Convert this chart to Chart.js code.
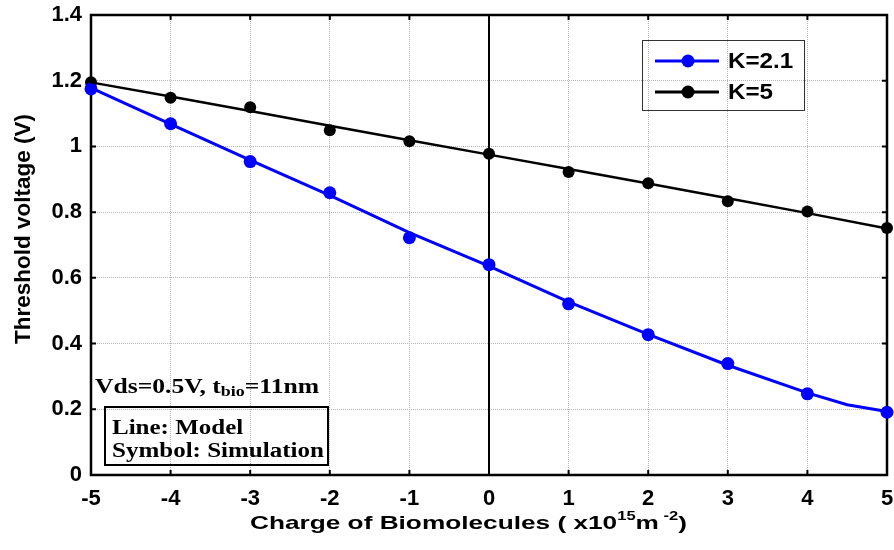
<!DOCTYPE html>
<html>
<head>
<meta charset="utf-8">
<script src="https://cdn.jsdelivr.net/npm/chart.js@4.4.0/dist/chart.umd.min.js"></script>
<style>
    html, body { margin: 0; padding: 0; background: #fff; }
    #wrap { width: 894px; height: 550px; }
</style>
</head>
<body>
<div id="wrap"><canvas id="vtChart" width="894" height="550"></canvas></div>
<script>
// ================================
// Threshold voltage vs charge of biomolecules
// ================================

// Charge of biomolecules (x10^15 m^-2)
const charge = [-5, -4, -3, -2, -1, 0, 1, 2, 3, 4, 5];

// Simulation symbols
const simK21 = [1.175, 1.069, 0.954, 0.859, 0.722, 0.640, 0.521, 0.427, 0.339, 0.247, 0.191];
const simK5 = [1.195, 1.148, 1.119, 1.049, 1.016, 0.978, 0.922, 0.888, 0.833, 0.802, 0.752];

// Model lines
const modelK21X = [-5, -4, -3, -2, -1, 0, 1, 2, 3, 4, 4.5, 5];
const modelK21 = [1.178, 1.068, 0.958, 0.851, 0.738, 0.636, 0.527, 0.428, 0.334, 0.250, 0.214, 0.193];
const modelK5X = [-5, -4, -3, -2, -1, 0, 1, 2, 3, 4, 5];
const modelK5 = [1.195, 1.152, 1.108, 1.063, 1.019, 0.975, 0.931, 0.887, 0.842, 0.797, 0.750];

// Tick labels
const xTickLabels = ['-5', '-4', '-3', '-2', '-1', '0', '1', '2', '3', '4', '5'];
const yTickLabels = ['0', '0.2', '0.4', '0.6', '0.8', '1', '1.2', '1.4'];

const legendLabels = ['K=2.1', 'K=5'];
const BLUE = '#0000ff';
const BLACK = '#000000';

function toPoints(xs, ys) {
    return xs.map((x, i) => ({ x: x, y: ys[i] }));
}

// Frame, zero line and inward ticks
const framePlugin = {
    id: 'frame',
    beforeDatasetsDraw(chart) {
        const { ctx, chartArea: a, scales: { x, y } } = chart;
        ctx.save();
        ctx.strokeStyle = '#000';
        ctx.lineWidth = 2.5;
        ctx.strokeRect(a.left, a.top, a.right - a.left, a.bottom - a.top);

        // vertical line at zero
        const x0 = x.getPixelForValue(0);
        ctx.lineWidth = 2;
        ctx.beginPath();
        ctx.moveTo(x0, a.top);
        ctx.lineTo(x0, a.bottom);
        ctx.stroke();

        // inward ticks
        ctx.lineWidth = 2;
        const len = 5;
        charge.forEach(v => {
            const px = x.getPixelForValue(v);
            ctx.beginPath();
            ctx.moveTo(px, a.bottom); ctx.lineTo(px, a.bottom - len);
            ctx.moveTo(px, a.top); ctx.lineTo(px, a.top + len);
            ctx.stroke();
        });
        yTickLabels.forEach((_, i) => {
            const py = y.getPixelForValue(i * 0.2);
            ctx.beginPath();
            ctx.moveTo(a.left, py); ctx.lineTo(a.left + len, py);
            ctx.moveTo(a.right, py); ctx.lineTo(a.right - len, py);
            ctx.stroke();
        });
        ctx.restore();
    }
};

// Legend, notes and axis titles
const labelsPlugin = {
    id: 'labels',
    afterDraw(chart) {
        const { ctx } = chart;
        ctx.save();

        // legend box
        ctx.strokeStyle = '#333';
        ctx.lineWidth = 1;
        ctx.strokeRect(642.5, 40.5, 162, 70);
        const colors = [BLUE, BLACK];
        const rows = [61, 92];
        colors.forEach((c, i) => {
            ctx.strokeStyle = c;
            ctx.fillStyle = c;
            ctx.lineWidth = 3;
            ctx.beginPath();
            ctx.moveTo(655, rows[i]);
            ctx.lineTo(719, rows[i]);
            ctx.stroke();
            ctx.beginPath();
            ctx.arc(688, rows[i], 6.5, 0, Math.PI * 2);
            ctx.fill();
            ctx.fillStyle = '#000';
            ctx.font = 'bold 22px "Liberation Sans", Arial, sans-serif';
            ctx.textBaseline = 'middle';
            ctx.textAlign = 'left';
            ctx.save();
            ctx.translate(728, rows[i] + 1);
            ctx.scale(1.1, 1);
            ctx.fillText(legendLabels[i], 0, 0);
            ctx.restore();
        });

        // condition text
        const serif = '"Liberation Serif", "Times New Roman", serif';
        ctx.fillStyle = '#000';
        ctx.textBaseline = 'alphabetic';
        ctx.save();
        ctx.translate(95, 393);
        ctx.scale(1.28, 1);
        ctx.font = 'bold 20px ' + serif;
        let cx = 0;
        const part1 = 'Vds=0.5V, t';
        ctx.fillText(part1, cx, 0);
        cx += ctx.measureText(part1).width;
        ctx.font = 'bold 14px ' + serif;
        ctx.fillText('bio', cx, 3);
        cx += ctx.measureText('bio').width;
        ctx.font = 'bold 20px ' + serif;
        ctx.fillText('=11nm', cx, 0);
        ctx.restore();

        // model / simulation box
        ctx.strokeStyle = '#000';
        ctx.lineWidth = 2;
        ctx.strokeRect(105, 407, 223, 58);
        ctx.font = 'bold 20px ' + serif;
        ctx.save();
        ctx.translate(112, 434);
        ctx.scale(1.25, 1);
        ctx.fillText('Line: Model', 0, 0);
        ctx.restore();
        ctx.save();
        ctx.translate(112, 457);
        ctx.scale(1.25, 1);
        ctx.fillText('Symbol: Simulation', 0, 0);
        ctx.restore();

        // y axis title
        ctx.save();
        ctx.translate(30, 229);
        ctx.rotate(-Math.PI / 2);
        ctx.font = 'bold 22.5px "Liberation Sans", Arial, sans-serif';
        ctx.textAlign = 'center';
        ctx.textBaseline = 'alphabetic';
        ctx.fillText('Threshold voltage (V)', 0, 0);
        ctx.restore();

        // x axis title with superscripts
        ctx.save();
        ctx.translate(250, 529);
        ctx.scale(1.38, 1);
        ctx.textAlign = 'left';
        const big = 'bold 19px "Liberation Sans", Arial, sans-serif';
        const small = 'bold 12px "Liberation Sans", Arial, sans-serif';
        const segs = [
            ['Charge of Biomolecules ( x10', big, 0],
            ['15', small, -9],
            ['m', big, 0],
            [' -2', small, -9],
            [')', big, 0]
        ];
        let tx = 0;
        segs.forEach(s => {
            ctx.font = s[1];
            ctx.fillText(s[0], tx, s[2]);
            tx += ctx.measureText(s[0]).width;
        });
        ctx.restore();

        ctx.restore();
    }
};

const ctx = document.getElementById('vtChart').getContext('2d');

const vtChart = new Chart(ctx, {
    type: 'line',
    data: {
        datasets: [
            {
                label: 'K=2.1 model',
                data: toPoints(modelK21X, modelK21),
                borderColor: BLUE,
                borderWidth: 3,
                pointRadius: 0,
                tension: 0,
                clip: false
            },
            {
                label: 'K=5 model',
                data: toPoints(modelK5X, modelK5),
                borderColor: BLACK,
                borderWidth: 2.5,
                pointRadius: 0,
                tension: 0,
                clip: false
            },
            {
                label: 'K=2.1 simulation',
                data: toPoints(charge, simK21),
                showLine: false,
                pointRadius: 6.5,
                pointBackgroundColor: BLUE,
                pointBorderColor: BLUE,
                pointBorderWidth: 0,
                clip: false
            },
            {
                label: 'K=5 simulation',
                data: toPoints(charge, simK5),
                showLine: false,
                pointRadius: 6,
                pointBackgroundColor: BLACK,
                pointBorderColor: BLACK,
                pointBorderWidth: 0,
                clip: false
            }
        ]
    },
    options: {
        responsive: false,
        animation: false,
        events: [],
        layout: {
            padding: { top: 15, right: 7, bottom: 0, left: 0 }
        },
        plugins: {
            legend: { display: false },
            tooltip: { enabled: false }
        },
        scales: {
            x: {
                type: 'linear',
                min: -5,
                max: 5,
                afterFit: function(scale) {
                    scale.height = 75;
                    scale.paddingLeft = 0;
                    scale.paddingRight = 0;
                },
                afterBuildTicks: function(scale) {
                    scale.ticks = charge.map(v => ({ value: v }));
                },
                ticks: {
                    padding: 11,
                    color: '#000',
                    font: { family: '"Liberation Sans", Arial, sans-serif', size: 22, weight: 'bold' },
                    callback: function(value) {
                        return xTickLabels[charge.indexOf(value)];
                    }
                },
                grid: {
                    color: '#b4b4b4',
                    lineWidth: 1,
                    drawTicks: false
                },
                border: { display: false, dash: [1, 1] }
            },
            y: {
                min: 0,
                max: 1.4,
                afterFit: function(scale) {
                    scale.width = 91;
                    scale.paddingTop = 0;
                    scale.paddingBottom = 0;
                },
                afterBuildTicks: function(scale) {
                    scale.ticks = yTickLabels.map((_, i) => ({ value: i * 0.2 }));
                },
                ticks: {
                    padding: 9,
                    color: '#000',
                    font: { family: '"Liberation Sans", Arial, sans-serif', size: 22, weight: 'bold' },
                    callback: function(value, index) {
                        return yTickLabels[index];
                    }
                },
                grid: {
                    color: '#b4b4b4',
                    lineWidth: 1,
                    drawTicks: false
                },
                border: { display: false, dash: [1, 1] }
            }
        }
    },
    plugins: [framePlugin, labelsPlugin]
});
</script>
</body>
</html>
